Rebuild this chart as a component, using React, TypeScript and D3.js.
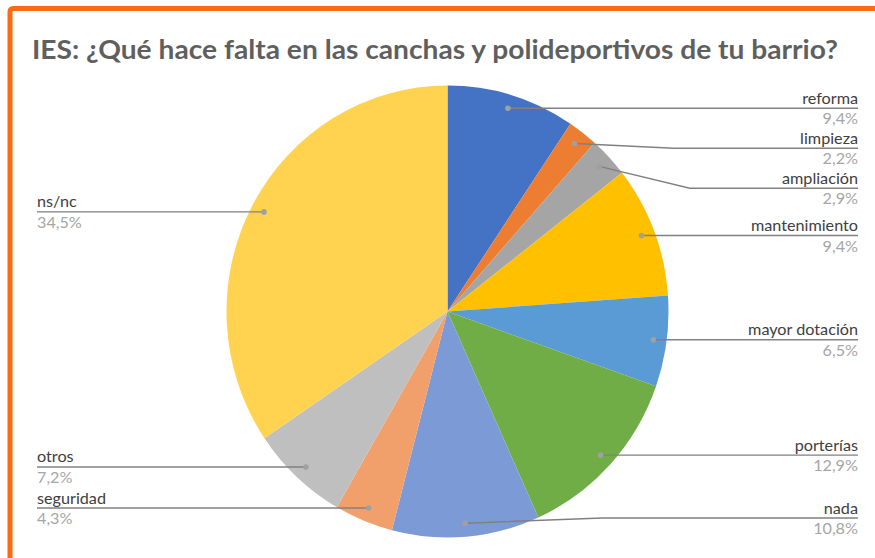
import React from "react";
import * as d3 from "d3";

const categories = ["reforma", "limpieza", "ampliación", "mantenimiento", "mayor dotación", "porterías", "nada", "seguridad", "otros", "ns/nc"];
const values = [9.4, 2.2, 2.9, 9.4, 6.5, 12.9, 10.8, 4.3, 7.2, 34.5];
const percentLabels = ["9,4%", "2,2%", "2,9%", "9,4%", "6,5%", "12,9%", "10,8%", "4,3%", "7,2%", "34,5%"];
const colors = ["#4472C4", "#ED7D31", "#A5A5A5", "#FFC000", "#5B9BD5", "#70AD47", "#7C9BD6", "#F2A06B", "#BFBFBF", "#FFD24F"];
const title = "IES: ¿Qué hace falta en las canchas y polideportivos de tu barrio?";

const W = 875;
const H = 558;
const cx = 447.5;
const cy = 311.5;
const R = 226;
const sx = 221 / 226;
const rightX = 858;
const leftX = 37;
const minGap = 40;
const maxY = 518;
const FONT = "Lato, 'Open Sans', sans-serif";

export default function App() {
  const pie = d3.pie<number>().sort(null).value((d) => d).startAngle(0).endAngle(2 * Math.PI);
  const arcs = pie(values);
  const arcGen = d3.arc<d3.PieArcDatum<number>>().innerRadius(0).outerRadius(R);
  const dotArc = d3.arc<d3.PieArcDatum<number>>().innerRadius(R * 0.94).outerRadius(R * 0.94);

  type L = { i: number; dx: number; dy: number; ly: number; right: boolean };
  const labels: L[] = arcs.map((a, i) => {
    const [dx, dy] = dotArc.centroid(a);
    const mid = (a.startAngle + a.endAngle) / 2;
    return { i, dx: cx + dx * sx, dy: cy + dy, ly: cy + dy, right: mid < Math.PI };
  });
  [true, false].forEach((side) => {
    const group = labels.filter((l) => l.right === side).sort((a, b) => a.dy - b.dy);
    for (let k = 1; k < group.length; k++) {
      if (group[k].ly < group[k - 1].ly + minGap) group[k].ly = group[k - 1].ly + minGap;
    }
    group.forEach((l) => {
      if (l.ly > maxY) l.ly = maxY;
    });
  });

  return (
    <div style={{ position: "absolute", left: 0, top: 0, width: W, height: H, overflow: "hidden", background: "#fff" }}>
      <svg width={W} height={H} style={{ display: "block" }}>
        <rect x={10} y={8.5} width={W + 50} height={H + 50} rx={3} fill="#fff" stroke="#FF6A10" strokeWidth={5} />
        <text
          x={435}
          y={59}
          textAnchor="middle"
          fontFamily={FONT}
          fontWeight={700}
          fontSize={26}
          fill="#5F5F5F"
          textLength={806}
          lengthAdjust="spacingAndGlyphs"
        >
          {title}
        </text>
        <g transform={`translate(${cx},${cy}) scale(${sx},1)`}>
          {arcs.map((a, i) => (
            <path key={i} d={arcGen(a) || ""} fill={colors[i]} />
          ))}
        </g>
        {labels.map((l) => {
          const endX = l.right ? rightX : leftX;
          const elbowX = l.dx + 0.35 * (endX - l.dx);
          const bent = Math.abs(l.ly - l.dy) > 1;
          const ly = bent ? l.ly : l.dy;
          const pts: [number, number][] = bent
            ? [[l.dx, l.dy], [elbowX, ly], [endX, ly]]
            : [[l.dx, l.dy], [endX, ly]];
          return (
            <g key={l.i}>
              <path d={d3.line()(pts) || ""} fill="none" stroke="#808080" strokeWidth={1.4} />
              <circle cx={l.dx} cy={l.dy} r={2.8} fill="#A0A0A0" />
              <text
                x={endX}
                y={ly - 4.5}
                textAnchor={l.right ? "end" : "start"}
                fontFamily={FONT}
                fontSize={16.2}
                fill="#404040"
              >
                {categories[l.i]}
              </text>
              <text
                x={endX}
                y={ly + 16}
                textAnchor={l.right ? "end" : "start"}
                fontFamily={FONT}
                fontSize={16.2}
                fill="#A6A6A6"
              >
                {percentLabels[l.i]}
              </text>
            </g>
          );
        })}
      </svg>
    </div>
  );
}
